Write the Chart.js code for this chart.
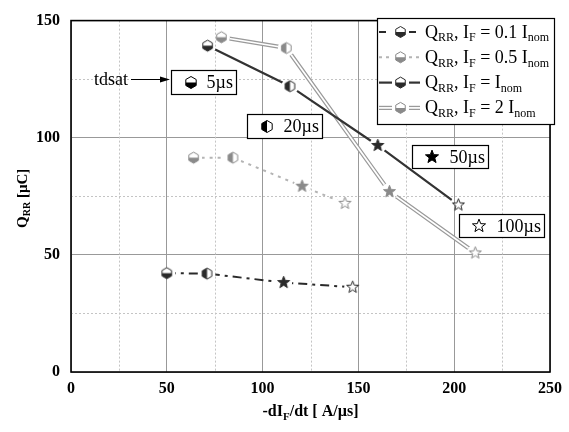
<!DOCTYPE html>
<html><head><meta charset="utf-8">
<script src="https://cdn.jsdelivr.net/npm/chart.js@4.4.1/dist/chart.umd.min.js"></script>
<style>html,body{margin:0;padding:0;background:#fff}</style>
</head><body>
<canvas id="c" width="569" height="432"></canvas>
<script>
// ---- data ----
const xTickStep = 50, yTickStep = 50;
const xMin = 0, xMax = 250, yMin = 0, yMax = 150;
const minorX = [25, 75, 125, 175, 225];
const minorY = [25, 75, 125];
const timeLabels = ['5µs', '20µs', '50µs', '100µs'];
const s01x = [50, 71, 111, 147],      s01y = [42.2, 42.0, 38.2, 36.2];
const s05x = [64, 84.5, 120.6, 143],  s05y = [91.5, 91.5, 79.3, 72.0];
const s1x  = [71.3, 114.3, 160.1, 202.2], s1y = [139.3, 122.0, 96.7, 71.3];
const s2x  = [78.5, 112.4, 166.2, 211.0], s2y = [142.9, 138.3, 77.0, 50.8];
const legendLabels = [
  [['Q',0],['RR',1],[', I',0],['F',1],[' = 0.1 I',0],['nom',1]],
  [['Q',0],['RR',1],[', I',0],['F',1],[' = 0.5 I',0],['nom',1]],
  [['Q',0],['RR',1],[', I',0],['F',1],[' = I',0],['nom',1]],
  [['Q',0],['RR',1],[', I',0],['F',1],[' = 2 I',0],['nom',1]]
];
const yTitle = [['Q',0],['RR',1],[' [µC]',0]];
const xTitle = [['-dI',0],['F',1],['/dt [ A/µs]',0]];
const markerTypes = ['hexH', 'hexV', 'star', 'starOpen'];

const FAM = '"Liberation Serif","Times New Roman",serif';
const pts = (xs, ys) => xs.map((x, i) => ({x, y: ys[i]}));

// ---- markers ----
function hexPath(ctx, cx, cy, r) {
  ctx.beginPath();
  for (let i = 0; i < 6; i++) { const a = -Math.PI/2 + i*Math.PI/3; ctx.lineTo(cx + r*Math.cos(a), cy + r*Math.sin(a)); }
  ctx.closePath();
}
function starPath(ctx, cx, cy, r) {
  const ri = r*0.42; ctx.beginPath();
  for (let i = 0; i < 10; i++) { const a = -Math.PI/2 + i*Math.PI/5; const rr = i%2 ? ri : r; ctx.lineTo(cx + rr*Math.cos(a), cy + rr*Math.sin(a)); }
  ctx.closePath();
}
function drawMarker(ctx, type, cx, cy, r, col) {
  ctx.save(); ctx.lineWidth = 1; ctx.strokeStyle = col; ctx.lineJoin = 'miter';
  if (type === 'hexH' || type === 'hexV') {
    hexPath(ctx, cx, cy, r); ctx.fillStyle = '#fff'; ctx.fill();
    const c = r*Math.cos(Math.PI/6);
    ctx.beginPath();
    if (type === 'hexH') { ctx.moveTo(cx-c, cy); ctx.lineTo(cx+c, cy); ctx.lineTo(cx+c, cy+r/2); ctx.lineTo(cx, cy+r); ctx.lineTo(cx-c, cy+r/2); }
    else { ctx.moveTo(cx, cy-r); ctx.lineTo(cx-c, cy-r/2); ctx.lineTo(cx-c, cy+r/2); ctx.lineTo(cx, cy+r); }
    ctx.closePath(); ctx.fillStyle = col; ctx.fill();
    hexPath(ctx, cx, cy, r); ctx.stroke();
  } else {
    const rr = r*1.15;
    starPath(ctx, cx, cy, rr);
    ctx.fillStyle = type === 'star' ? col : '#fff'; ctx.fill(); ctx.stroke();
  }
  ctx.restore();
}
function markerCanvas(type, col, r) {
  const s = Math.ceil(r*2.6 + 4); const c = document.createElement('canvas');
  c.width = c.height = s; drawMarker(c.getContext('2d'), type, s/2, s/2, r, col); return c;
}
const markersFor = col => markerTypes.map(t => markerCanvas(t, col, 5.5));

const DARK = '#2a2a2a', GRAY = '#8a8a8a';
const lineDs = (xs, ys, color, width, dash, order) => ({data: pts(xs, ys), showLine: true, borderColor: color, borderWidth: width, borderDash: dash, pointRadius: 0, tension: 0, gapR: 8.5, fill: false, order});
const pointDs = (xs, ys, col) => ({data: pts(xs, ys), showLine: false, pointStyle: markersFor(col), pointRadius: 6, backgroundColor: col, borderColor: col, order: 0});

const datasets = [
  lineDs(s01x, s01y, DARK, 2, [9,5,3,5], 2),
  lineDs(s05x, s05y, '#b4b4b4', 2, [3,5], 2),
  lineDs(s1x, s1y, '#333', 2.2, [], 2),
  lineDs(s2x, s2y, '#9a9a9a', 4.2, [], 4),
  lineDs(s2x, s2y, '#fff', 1.7, [], 3),
  pointDs(s01x, s01y, DARK),
  pointDs(s05x, s05y, GRAY),
  pointDs(s1x, s1y, DARK),
  pointDs(s2x, s2y, GRAY)
];

// ---- text helper ----
function rich(ctx, parts, x, y, size, weight, align) {
  const sub = Math.round(size*0.68);
  let w = 0;
  for (const [s, b] of parts) { ctx.font = `${weight} ${b?sub:size}px ${FAM}`; w += ctx.measureText(s).width; }
  let cx = align === 'center' ? x - w/2 : x;
  ctx.textAlign = 'left'; ctx.textBaseline = 'alphabetic';
  for (const [s, b] of parts) {
    ctx.font = `${weight} ${b?sub:size}px ${FAM}`;
    ctx.fillText(s, cx, b ? y + size*0.22 : y);
    cx += ctx.measureText(s).width;
  }
  return w;
}

const gapPlugin = {
  id: 'gap',
  beforeDatasetDraw(chart, args) {
    const ds = chart.data.datasets[args.index]; if (!ds.gapR) return;
    const ctx = chart.ctx; ctx.save(); ctx.beginPath();
    ctx.rect(0, 0, chart.width, chart.height);
    for (const p of args.meta.data) { ctx.moveTo(p.x + ds.gapR, p.y); ctx.arc(p.x, p.y, ds.gapR, 0, Math.PI*2, true); }
    ctx.clip('evenodd');
  },
  afterDatasetDraw(chart, args) {
    const ds = chart.data.datasets[args.index]; if (!ds.gapR) return;
    chart.ctx.restore();
  }
};

const gridPlugin = {
  id: 'gridExtra',
  beforeDatasetsDraw(chart) {
    const {ctx, chartArea: a, scales: {x, y}} = chart;
    ctx.save(); ctx.strokeStyle = '#c4c4c4'; ctx.lineWidth = 1; ctx.setLineDash([2, 2]);
    for (const v of minorX) { const px = Math.round(x.getPixelForValue(v)) + 0.5; ctx.beginPath(); ctx.moveTo(px, a.top); ctx.lineTo(px, a.bottom); ctx.stroke(); }
    for (const v of minorY) { const py = Math.round(y.getPixelForValue(v)) + 0.5; ctx.beginPath(); ctx.moveTo(a.left, py); ctx.lineTo(a.right, py); ctx.stroke(); }
    ctx.setLineDash([]); ctx.strokeStyle = '#000'; ctx.lineWidth = 1.6;
    ctx.strokeRect(a.left, a.top, a.right - a.left, a.bottom - a.top);
    ctx.restore();
  },
  afterDraw(chart) {
    const {ctx, chartArea: a, scales: {x, y}} = chart;
    ctx.save(); ctx.fillStyle = '#000';
    // axis titles
    rich(ctx, xTitle, (a.left + a.right)/2, 416, 16, 'bold', 'center');
    ctx.save(); ctx.translate(27, (a.top + a.bottom)/2 + 2); ctx.rotate(-Math.PI/2);
    rich(ctx, yTitle, 0, 0, 15, 'bold', 'center'); ctx.restore();

    // legend
    const lx0 = 377, ly0 = 18, lx1 = 554, ly1 = 124;
    ctx.fillStyle = '#fff'; ctx.fillRect(lx0, ly0, lx1-lx0, ly1-ly0);
    ctx.strokeStyle = '#000'; ctx.lineWidth = 1.2; ctx.strokeRect(lx0+0.5, ly0+0.5, lx1-lx0, ly1-ly0);
    const styles = [
      {c: DARK, w: 2, d: [7,6]}, {c: '#b4b4b4', w: 2, d: [3,4]}, {c: '#333', w: 2.2, d: []}, {c: '#9a9a9a', w: 4.2, d: [], dbl: true}
    ];
    const mcol = [DARK, GRAY, DARK, GRAY];
    for (let i = 0; i < 4; i++) {
      const ry = 32 + i*25.3;
      const st = styles[i];
      const segs = [[379, 392], [409, 420]];
      for (const [sx, ex] of segs) {
        ctx.beginPath(); ctx.setLineDash(st.d); ctx.strokeStyle = st.c; ctx.lineWidth = st.w;
        ctx.moveTo(sx, ry); ctx.lineTo(ex, ry); ctx.stroke();
        if (st.dbl) { ctx.strokeStyle = '#fff'; ctx.lineWidth = 1.7; ctx.beginPath(); ctx.moveTo(sx, ry); ctx.lineTo(ex, ry); ctx.stroke(); }
      }
      ctx.setLineDash([]);
      drawMarker(ctx, 'hexH', 400.5, ry, 5.5, mcol[i]);
      ctx.fillStyle = '#000';
      rich(ctx, legendLabels[i], 425, ry + 5.5, 18, 'normal', 'left');
    }

    // annotation boxes (data-space anchors)
    const boxes = [
      {x0: 52.1, x1: 86.1, y0: 128.75, y1: 118.75},
      {x0: 91.8, x1: 130.9, y0: 110, y1: 100},
      {x0: 177.8, x1: 217.5, y0: 97.1, y1: 87.1},
      {x0: 202.6, x1: 246.9, y0: 67.5, y1: 57.5}
    ];
    boxes.forEach((b, i) => {
      const X0 = Math.round(x.getPixelForValue(b.x0)), X1 = Math.round(x.getPixelForValue(b.x1));
      const Y0 = Math.round(y.getPixelForValue(b.y0)), Y1 = Math.round(y.getPixelForValue(b.y1));
      ctx.fillStyle = '#fff'; ctx.fillRect(X0, Y0, X1-X0, Y1-Y0);
      ctx.strokeStyle = '#000'; ctx.lineWidth = 1.2; ctx.strokeRect(X0+0.5, Y0+0.5, X1-X0, Y1-Y0);
      const cy = (Y0 + Y1)/2 + 0.5;
      drawMarker(ctx, markerTypes[i], X0 + 20, cy, 6, '#000');
      ctx.fillStyle = '#000'; ctx.font = `18px ${FAM}`; ctx.textAlign = 'right'; ctx.textBaseline = 'middle';
      ctx.fillText(timeLabels[i], X1 - 3, cy + 1);
    });

    // tdsat arrow
    const bx = Math.round(x.getPixelForValue(boxes[0].x0));
    const ay = Math.round(y.getPixelForValue(125)) + 0.5;
    ctx.fillStyle = '#000'; ctx.font = `18px ${FAM}`; ctx.textAlign = 'right'; ctx.textBaseline = 'middle';
    ctx.fillText('tdsat', bx - 43, ay + 1);
    ctx.strokeStyle = '#000'; ctx.lineWidth = 1.2;
    ctx.beginPath(); ctx.moveTo(bx - 40, ay); ctx.lineTo(bx - 6, ay); ctx.stroke();
    ctx.beginPath(); ctx.moveTo(bx - 1, ay); ctx.lineTo(bx - 11, ay - 3); ctx.lineTo(bx - 11, ay + 3); ctx.closePath(); ctx.fill();
    ctx.restore();
  }
};

new Chart(document.getElementById('c'), {
  type: 'scatter',
  data: {datasets},
  options: {
    responsive: false, animation: false, devicePixelRatio: 1,
    layout: {padding: {left: 0, right: 13, top: 12, bottom: 0}},
    plugins: {legend: {display: false}, tooltip: {enabled: false}},
    scales: {
      x: {type: 'linear', min: xMin, max: xMax,
        ticks: {stepSize: xTickStep, color: '#000', padding: 7, maxRotation: 0, font: {family: FAM, size: 16, weight: 'bold'}},
        grid: {color: '#999', lineWidth: 1, drawTicks: false}, border: {display: false},
        afterFit: s => { s.height = 60; }},
      y: {type: 'linear', min: yMin, max: yMax,
        ticks: {stepSize: yTickStep, color: '#000', padding: 11, font: {family: FAM, size: 16, weight: 'bold'}},
        grid: {color: '#999', lineWidth: 1, drawTicks: false}, border: {display: false},
        afterFit: s => { s.width = 71; }}
    }
  },
  plugins: [gapPlugin, gridPlugin]
});
</script>
</body></html>
